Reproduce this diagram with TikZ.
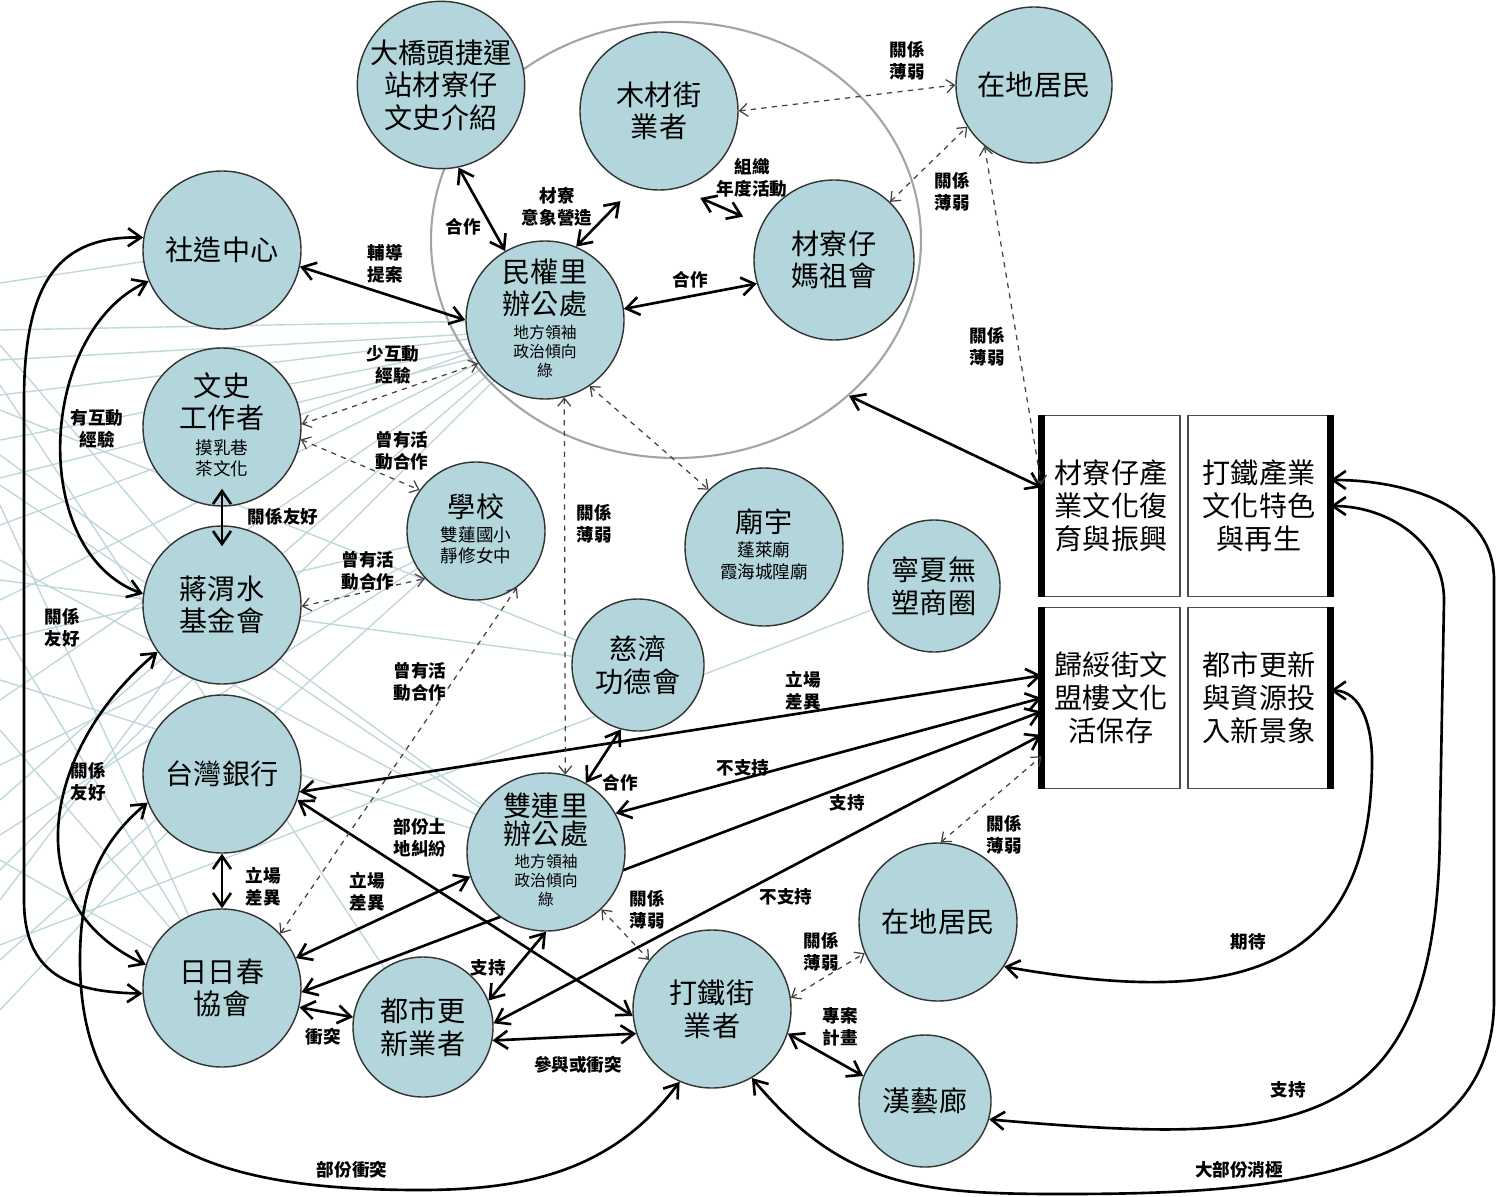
\documentclass[tikz,border=0pt]{standalone}
\usepackage{fontspec}
\setmainfont{Noto Sans CJK TC}
\usetikzlibrary{arrows.meta,shapes.geometric}
\definecolor{nodeblue}{RGB}{178,214,220}
\definecolor{webline}{RGB}{192,215,219}
\definecolor{ring}{RGB}{158,166,166}
\newcommand{\subtab}[3]{{\fontsize{#1}{#2}\selectfont\begin{tabular}[t]{@{}c@{}}#3\end{tabular}}}
\pgfdeclarelayer{back}
\pgfsetlayers{back,main}

\begin{document}
\begin{tikzpicture}[x=0.2mm,y=-0.2mm,
  >={Straight Barb[length=2.6mm,width=3.6mm]},
  actor/.style={circle,draw=black!80,line width=0.8pt,fill=nodeblue,minimum size=3.16cm,inner sep=0pt,align=center,font=\fontsize{16}{18.5}\selectfont},
  goal/.style={rectangle,draw=black!70,line width=0.6pt,minimum width=2.76cm,minimum height=3.62cm,align=center,font=\fontsize{16}{18.7}\selectfont},
  bar/.style={line width=4pt},
  link/.style={<->,line width=1.5pt},
  weak/.style={<->,>={Straight Barb[length=1.6mm,width=2.6mm]},dashed,line width=0.7pt,black!75},
  lbl/.style={font=\fontsize{10}{12.5}\selectfont\bfseries,align=center,inner sep=1pt},
  web/.style={webline,line width=0.8pt}]

	\useasboundingbox (0,0) rectangle (1499,1197);

	\node[actor] (A) at (441,85) {大橋頭捷運\\站材寮仔\\文史介紹};
	\node[actor] (B) at (659,111) {木材街\\業者};
	\node[actor, minimum size=3.12cm] (C) at (1034,85) {在地居民};
	\node[actor, minimum size=3.2cm] (D) at (834,260) {材寮仔\\媽祖會};
	\node[actor] (E) at (222,250) {社造中心};
	\node[actor] (F) at (545,320) {民權里\\辦公處\\[-5pt]\subtab{9}{10.5}{地方領袖\\政治傾向\\綠}};
	\node[actor] (G) at (222,427) {文史\\工作者\\[-4pt]\subtab{10}{12}{摸乳巷\\茶文化}};
	\node[actor] (H) at (222,605) {蔣渭水\\基金會};
	\node[actor, minimum size=2.76cm] (L) at (476,531) {學校\\[-5pt]\subtab{10}{11.5}{雙蓮國小\\靜修女中}};
	\node[actor] (T) at (764,547) {廟宇\\[-4.5pt]\subtab{10}{12.5}{蓬萊廟\\霞海城隍廟}};
	\node[actor, minimum size=2.64cm] (U) at (934,586) {寧夏無\\塑商圈};
	\node[actor, minimum size=2.64cm] (J) at (638,665) {慈濟\\功德會};
	\node[actor] (I) at (222,774) {台灣銀行};
	\node[actor] (M) at (546,852) {雙連里\\[-2.5pt]辦公處\\[-5pt]\subtab{9}{10.8}{地方領袖\\政治傾向\\綠}};
	\node[actor] (K) at (222,988) {日日春\\協會};
	\node[actor, minimum size=2.8cm] (N) at (423,1027) {都市更\\新業者};
	\node[actor] (Q) at (712,1009) {打鐵街\\業者};
	\node[actor] (R) at (938,922) {在地居民};
	\node[actor, minimum size=2.64cm] (S) at (925,1101) {漢藝廊};

	\node[goal] (P1) at (1111,506) {材寮仔產\\業文化復\\育與振興};
	\node[goal, minimum width=2.84cm] (P2) at (1259,506) {打鐵產業\\文化特色\\與再生};
	\node[goal] (P3) at (1111,698) {歸綏街文\\盟樓文化\\活保存};
	\node[goal, minimum width=2.84cm] (P4) at (1259,698) {都市更新\\與資源投\\入新景象};
	\draw[bar] (P1.north west) -- (P1.south west);
	\draw[bar] (P2.north east) -- (P2.south east);
	\draw[bar] (P3.north west) -- (P3.south west);
	\draw[bar] (P4.north east) -- (P4.south east);

	\begin{pgfonlayer}{back}
	\foreach \ya/\tx/\ty in {283/222/250, 330/545/320, 360/545/330, 395/545/330, 440/545/335, 478/545/340, 525/545/325, 600/545/330, 700/545/325, 800/545/325, 345/222/605, 410/638/665, 455/546/852, 505/222/988, 560/546/852, 580/638/665, 640/476/531, 680/546/852, 765/476/531, 625/222/988, 860/222/988, 900/222/605, 945/934/586, 960/476/531, 835/476/531, 385/423/1027, 485/546/852, 1010/222/774, 730/222/988, 870/545/330}
		\draw[web] (0,\ya) -- (\tx,\ty);
	\node[ellipse, draw=ring, line width=1.2pt, minimum width=9.8cm, minimum height=8.72cm] (O) at (676,240) {};
	\draw[link] (K.-3) -- (P3.191);
	\end{pgfonlayer}

	% solid links
	\draw[link] (A.-78) -- (F.120);
	\draw[link, shorten >=4mm] (F.67) -- (B.-108);
	\draw[link, shorten <=4.8mm, shorten >=4mm] (B.-76) -- (D.154);
	\draw[link] (F.8) -- (D.-163);
	\draw[link] (E.-12) -- (F.180);
	\draw[link, shorten <=-3.6mm, shorten >=-4.2mm] (G.-90) -- (H.90);
	\draw[link] (I.-90) -- (K.90);
	\draw[link] (I.-19) -- (Q.-175);
	\draw[link] (K.22) -- (M.-162);
	\draw[link] (K.-14) -- (N.172);
	\draw[link] (N.22) -- (M.-90);
	\draw[link] (N.-11) -- (Q.-162);
	\draw[link] (Q.-18) -- (S.158);
	\draw[link] (J.-105) -- (M.60);
	\draw[link] (O.-42) -- (P1.165);
	\draw[link] (I.-13) -- (P3.162);
	\draw[link] (M.29) -- (P3.180);
	\draw[link] (N.3) -- (P3.-152);

	% curved links
	\draw[link] (E.171) .. controls (60,236) and (24,280) .. (24,400) -- (24,900) .. controls (24,975) and (70,992) .. (K.-176);
	\draw[link] (E.-157) to[out=205, in=160] (H.172);
	\draw[link] (H.-144) to[out=220, in=155, looseness=1.2] (K.163);
	\draw[link] (I.-159) to[out=220, in=90] (80,960) to[out=-90, in=180, looseness=1.2] (420,1190) to[out=0, in=-127] (Q.-114);
	\draw[link] (P4.6) to[out=0, in=90] (1372,760) to[out=-90, in=-10, looseness=1.35] (R.-34);
	\draw[link] (P2.east) to[out=0, in=90] (1444,600) -- (1440,820) to[out=-90, in=-5, looseness=1.5] (S.-16);
	\draw[link] (P2.20) to[out=0, in=90] (1494,580) -- (1494,1000) to[out=-90, in=0] (1060,1194) to[out=180, in=-50, looseness=1.1] (Q.-60);

	% weak links
	\draw[weak] (B.0) -- (C.180);
	\draw[weak] (D.46) -- (C.-148);
	\draw[weak] (C.-129) -- (P1.163);
	\draw[weak] (F.-147) -- (G.2);
	\draw[weak] (G.-9) -- (L.144);
	\draw[weak] (H.-1) -- (L.-137);
	\draw[weak] (K.43) -- (L.-54);
	\draw[weak] (F.-76) -- (M.76);
	\draw[weak] (F.-56) -- (T.134);
	\draw[weak] (M.-46) -- (Q.142);
	\draw[weak] (Q.8) -- (R.-157);
	\draw[weak] (R.88) -- (P3.-140);

	\node[lbl] (L1) at (463,227) {合作};
	\node[lbl] (L2) at (557,207) {材寮\\意象營造};
	\node[lbl] (L3) at (752,178) {組織\\年度活動};
	\node[lbl] (L4) at (690,280) {合作};
	\node[lbl] (L5) at (385,264) {輔導\\提案};
	\node[lbl] (L6) at (393,365) {少互動\\經驗};
	\node[lbl] (L7) at (402,451) {曾有活\\動合作};
	\node[lbl] (L8) at (97,429) {有互動\\經驗};
	\node[lbl] (L9) at (283,517) {關係友好};
	\node[lbl] (L10) at (368,571) {曾有活\\動合作};
	\node[lbl] (L11) at (62,628) {關係\\友好};
	\node[lbl] (L12) at (420,682) {曾有活\\動合作};
	\node[lbl] (L13) at (88,782) {關係\\友好};
	\node[lbl] (L14) at (594,524) {關係\\薄弱};
	\node[lbl] (L15) at (907,61) {關係\\薄弱};
	\node[lbl] (L16) at (952,192) {關係\\薄弱};
	\node[lbl] (L17) at (987,347) {關係\\薄弱};
	\node[lbl] (L18) at (803,691) {立場\\差異};
	\node[lbl] (L19) at (620,783) {合作};
	\node[lbl] (L20) at (743,768) {不支持};
	\node[lbl] (L21) at (847,803) {支持};
	\node[lbl] (L22) at (420,838) {部份土\\地糾紛};
	\node[lbl] (L23) at (263,887) {立場\\差異};
	\node[lbl] (L24) at (367,892) {立場\\差異};
	\node[lbl] (L25) at (323,1037) {衝突};
	\node[lbl] (L26) at (488,968) {支持};
	\node[lbl] (L27) at (578,1065) {參與或衝突};
	\node[lbl] (L28) at (647,910) {關係\\薄弱};
	\node[lbl] (L29) at (786,897) {不支持};
	\node[lbl] (L30) at (1004,835) {關係\\薄弱};
	\node[lbl] (L31) at (821,952) {關係\\薄弱};
	\node[lbl] (L32) at (840,1027) {專案\\計畫};
	\node[lbl] (L33) at (1248,942) {期待};
	\node[lbl] (L34) at (1288,1090) {支持};
	\node[lbl] (L35) at (1239,1170) {大部份消極};
	\node[lbl] (L36) at (352,1170) {部份衝突};

\end{tikzpicture}
\end{document}
